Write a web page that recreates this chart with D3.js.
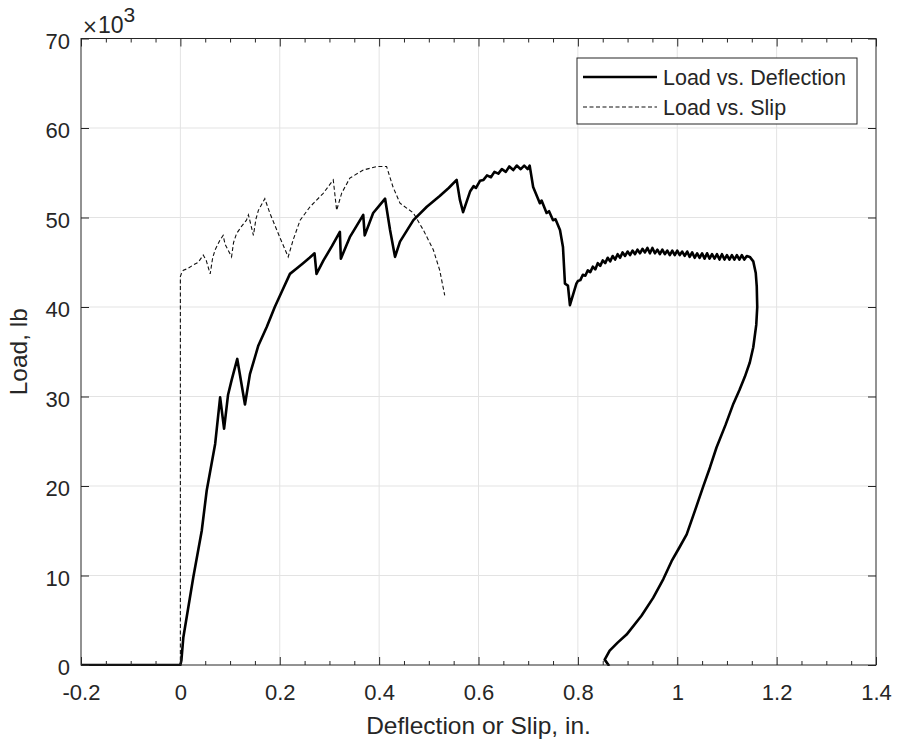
<!DOCTYPE html>
<html>
<head>
<meta charset="utf-8">
<script src="https://cdn.jsdelivr.net/npm/d3@7"></script>
<style>
  html, body { margin: 0; padding: 0; background: #fff; }
  svg { display: block; font-family: "Liberation Sans", Arial, Helvetica, sans-serif; }
</style>
</head>
<body>
<svg id="chart" width="897" height="744"></svg>
<script>
// ---- Data (load in thousands of lb) ----
const seriesNames = ["Load vs. Deflection", "Load vs. Slip"];

const deflectionX = [-0.2,0,0.002,0.006,0.026,0.043,0.053,0.070,0.080,0.088,0.096,0.103,0.1145,0.130,0.140,0.157,0.174,0.190,0.204,0.2205,0.234,0.247,0.260,0.270,0.274,0.288,0.305,0.321,0.323,0.341,0.355,0.368,0.371,0.388,0.400,0.412,0.422,0.432,0.442,0.469,0.496,0.522,0.540,0.556,0.5625,0.569,0.583,0.590,0.595,0.603,0.610,0.617,0.625,0.632,0.640,0.647,0.655,0.662,0.670,0.677,0.685,0.692,0.699,0.703,0.710,0.7235,0.727,0.737,0.742,0.750,0.755,0.764,0.770,0.774,0.780,0.784,0.797,
  0.800,0.805,0.810,0.815,0.820,0.825,0.830,0.835,0.840,0.845,0.850,0.855,0.860,0.865,0.870,0.875,0.880,0.885,0.890,0.895,0.900,0.905,0.910,0.915,0.920,0.925,0.930,0.935,0.940,0.945,0.950,0.955,0.960,0.965,0.970,0.975,0.980,0.985,0.990,0.995,1.000,1.005,1.010,1.015,1.020,1.025,1.030,1.035,1.040,1.045,1.050,1.055,1.060,1.065,1.070,1.075,1.080,1.085,1.090,1.095,1.100,1.105,1.110,1.115,1.120,1.125,1.130,1.135,1.140,1.146,
  1.153,1.158,1.160,1.161,1.159,1.153,1.146,1.136,1.125,1.113,1.097,1.079,1.066,1.052,1.036,1.019,1.004,0.9886,0.972,0.9515,0.928,0.898,0.880,0.864,0.854,0.863];
const deflectionY = [0,0,0.5,3.1,9.8,15.0,19.5,24.7,29.9,26.4,30.2,31.8,34.2,29.1,32.5,35.7,37.8,40.0,41.7,43.7,44.3,44.9,45.5,46.0,43.7,45.2,46.8,48.4,45.4,47.8,49.1,50.3,48.0,50.5,51.3,52.1,48.6,45.6,47.3,49.7,51.2,52.4,53.3,54.2,52.0,50.6,52.9,53.5,53.3,54.1,54.2,54.7,54.5,55.1,54.9,55.4,55.1,55.7,55.3,55.8,55.4,55.8,55.4,55.8,53.4,51.6,51.9,50.5,50.7,49.7,49.8,48.6,46.7,42.6,42.4,40.2,42.6,
  42.9,43.0,43.6,43.5,44.1,43.9,44.5,44.2,44.9,44.6,45.2,44.9,45.5,45.1,45.7,45.3,45.9,45.5,46.1,45.7,46.2,45.8,46.3,45.9,46.4,46.0,46.5,46.1,46.6,46.0,46.6,46.0,46.4,45.9,46.4,45.9,46.3,45.8,46.3,45.8,46.3,45.8,46.2,45.7,46.2,45.6,46.1,45.5,46.0,45.5,46.0,45.4,46.0,45.4,45.9,45.4,45.9,45.3,45.9,45.3,45.8,45.3,45.8,45.3,45.8,45.3,45.8,45.3,45.7,45.6,
  45.1,43.8,42.3,40.0,38.0,35.5,33.8,32.2,30.7,29.2,26.8,24.3,22.1,19.9,17.3,14.6,13.1,11.6,9.6,7.5,5.5,3.4,2.5,1.6,0.6,-0.1];

const slipX = [-0.2,0,0,0.003,0.006,0.015,0.026,0.036,0.046,0.052,0.060,0.065,0.070,0.080,0.086,0.090,0.103,0.107,0.113,0.123,0.133,0.137,0.147,0.152,0.157,0.170,0.180,0.200,0.217,0.227,0.241,0.261,0.2875,0.3077,0.3145,0.3245,0.341,0.368,0.395,0.415,0.428,0.442,0.469,0.489,0.509,0.522,0.532];
const slipY = [0,0,43.4,43.9,44.1,44.3,44.7,45.0,45.8,45.2,43.7,45.5,46.4,47.5,48.0,47.0,45.6,47.2,48.2,49.0,49.7,50.3,48.0,49.8,50.8,52.1,50.5,47.8,45.6,47.5,49.7,51.2,52.7,54.2,50.8,52.7,54.4,55.3,55.7,55.7,53.4,51.6,50.5,48.6,46.4,44.1,41.3];

const xTicks = [-0.2,0,0.2,0.4,0.6,0.8,1,1.2,1.4];
const xTickLabels = ["-0.2","0","0.2","0.4","0.6","0.8","1","1.2","1.4"];
const xMinorTicks = [-0.15,-0.1,-0.05,0.05,0.1,0.15,0.25,0.3,0.35,0.45,0.5,0.55,0.65,0.7,0.75,0.85,0.9,0.95,1.05,1.1,1.15,1.25,1.3,1.35];
const yTicks = [0,10,20,30,40,50,60,70];
const yTickLabels = ["0","10","20","30","40","50","60","70"];
const xLabel = "Deflection or Slip, in.";
const yLabel = "Load, lb";

// ---- Layout ----
const svg = d3.select("#chart");
const L = 81, R = 876, T = 38.5, B = 665;
const axisColor = "#262626";
const gridColor = "#e3e3e3";

const x = d3.scaleLinear().domain([-0.2, 1.4]).range([L, R]);
const y = d3.scaleLinear().domain([0, 70]).range([B, T]);

// grid
const grid = svg.append("g");
grid.selectAll("line.gx").data(xTicks.slice(1, -1)).enter().append("line")
  .attr("x1", d => x(d)).attr("x2", d => x(d)).attr("y1", T).attr("y2", B)
  .attr("stroke", gridColor).attr("stroke-width", 1);
grid.selectAll("line.gy").data(yTicks.slice(1, -1)).enter().append("line")
  .attr("x1", L).attr("x2", R).attr("y1", d => y(d)).attr("y2", d => y(d))
  .attr("stroke", gridColor).attr("stroke-width", 1);

// clip
svg.append("clipPath").attr("id", "clip").append("rect")
  .attr("x", L).attr("y", T).attr("width", R - L).attr("height", B - T + 1);

const line = d3.line().x(d => x(d[0])).y(d => y(d[1]));
const plot = svg.append("g").attr("clip-path", "url(#clip)");

plot.append("path")
  .datum(slipX.map((v, i) => [v, slipY[i]]))
  .attr("d", line).attr("fill", "none").attr("stroke", "#111")
  .attr("stroke-width", 1.1).attr("stroke-dasharray", "4,2.5");

plot.append("path")
  .datum(deflectionX.map((v, i) => [v, deflectionY[i]]))
  .attr("d", line).attr("fill", "none").attr("stroke", "#000")
  .attr("stroke-width", 2.6).attr("stroke-linejoin", "round");

// axes
function styleAxis(g) {
  g.selectAll(".domain").remove();
  g.selectAll("line").attr("stroke", axisColor).attr("stroke-width", 1);
  g.selectAll("text").attr("fill", axisColor)
    .style("font-family", '"Liberation Sans", Arial, Helvetica, sans-serif')
    .style("font-size", "22px");
}

const xAxisB = d3.axisBottom(x).tickValues(xTicks)
  .tickFormat((d, i) => xTickLabels[i]).tickSizeInner(-8).tickSizeOuter(0).tickPadding(19);
svg.append("g").attr("transform", `translate(0,${B})`).call(xAxisB).call(styleAxis);

const xAxisBm = d3.axisBottom(x).tickValues(xMinorTicks).tickFormat("").tickSizeInner(-4).tickSizeOuter(0);
svg.append("g").attr("transform", `translate(0,${B})`).call(xAxisBm).call(styleAxis);

const xAxisT = d3.axisTop(x).tickValues(xTicks).tickFormat("").tickSizeInner(-8).tickSizeOuter(0);
svg.append("g").attr("transform", `translate(0,${T})`).call(xAxisT).call(styleAxis);
const xAxisTm = d3.axisTop(x).tickValues(xMinorTicks).tickFormat("").tickSizeInner(-4).tickSizeOuter(0);
svg.append("g").attr("transform", `translate(0,${T})`).call(xAxisTm).call(styleAxis);

const yAxisL = d3.axisLeft(y).tickValues(yTicks)
  .tickFormat((d, i) => yTickLabels[i]).tickSizeInner(-8).tickSizeOuter(0).tickPadding(11);
const gyl = svg.append("g").attr("transform", `translate(${L},0)`).call(yAxisL).call(styleAxis);
gyl.selectAll("text").attr("dy", "0.45em");

const yAxisR = d3.axisRight(y).tickValues(yTicks).tickFormat("").tickSizeInner(-8).tickSizeOuter(0);
svg.append("g").attr("transform", `translate(${R},0)`).call(yAxisR).call(styleAxis);

// box
svg.append("rect").attr("x", L).attr("y", T).attr("width", R - L).attr("height", B - T)
  .attr("fill", "none").attr("stroke", axisColor).attr("stroke-width", 1);

// exponent
svg.append("text").attr("x", 82).attr("y", 33).attr("fill", axisColor)
  .style("font-family", '"DejaVu Sans", sans-serif').style("font-size", "19px").text("\u00d7");
const expo = svg.append("text").attr("x", 98).attr("y", 33).attr("fill", axisColor)
  .style("font-size", "23px");
expo.append("tspan").text("10");
expo.append("tspan").attr("dy", -11).style("font-size", "21px").text("3");

// axis labels
svg.append("text").attr("x", (L + R) / 2).attr("y", 734).attr("text-anchor", "middle")
  .attr("fill", axisColor).style("font-size", "24.5px").text(xLabel);
svg.append("text").attr("transform", `translate(27,${(T + B) / 2}) rotate(-90)`)
  .attr("text-anchor", "middle").attr("fill", axisColor).style("font-size", "24.5px").text(yLabel);

// legend
const lg = svg.append("g");
lg.append("rect").attr("x", 577).attr("y", 58).attr("width", 280).attr("height", 66)
  .attr("fill", "#fff").attr("stroke", axisColor).attr("stroke-width", 1);
lg.append("line").attr("x1", 583).attr("x2", 657).attr("y1", 77).attr("y2", 77)
  .attr("stroke", "#000").attr("stroke-width", 2.6);
lg.append("line").attr("x1", 583).attr("x2", 657).attr("y1", 107).attr("y2", 107)
  .attr("stroke", "#111").attr("stroke-width", 1.1).attr("stroke-dasharray", "4,2.5");
lg.append("text").attr("x", 663).attr("y", 85).attr("fill", axisColor)
  .style("font-size", "21.5px").text(seriesNames[0]);
lg.append("text").attr("x", 663).attr("y", 115).attr("fill", axisColor)
  .style("font-size", "21.5px").text(seriesNames[1]);
</script>
</body>
</html>
